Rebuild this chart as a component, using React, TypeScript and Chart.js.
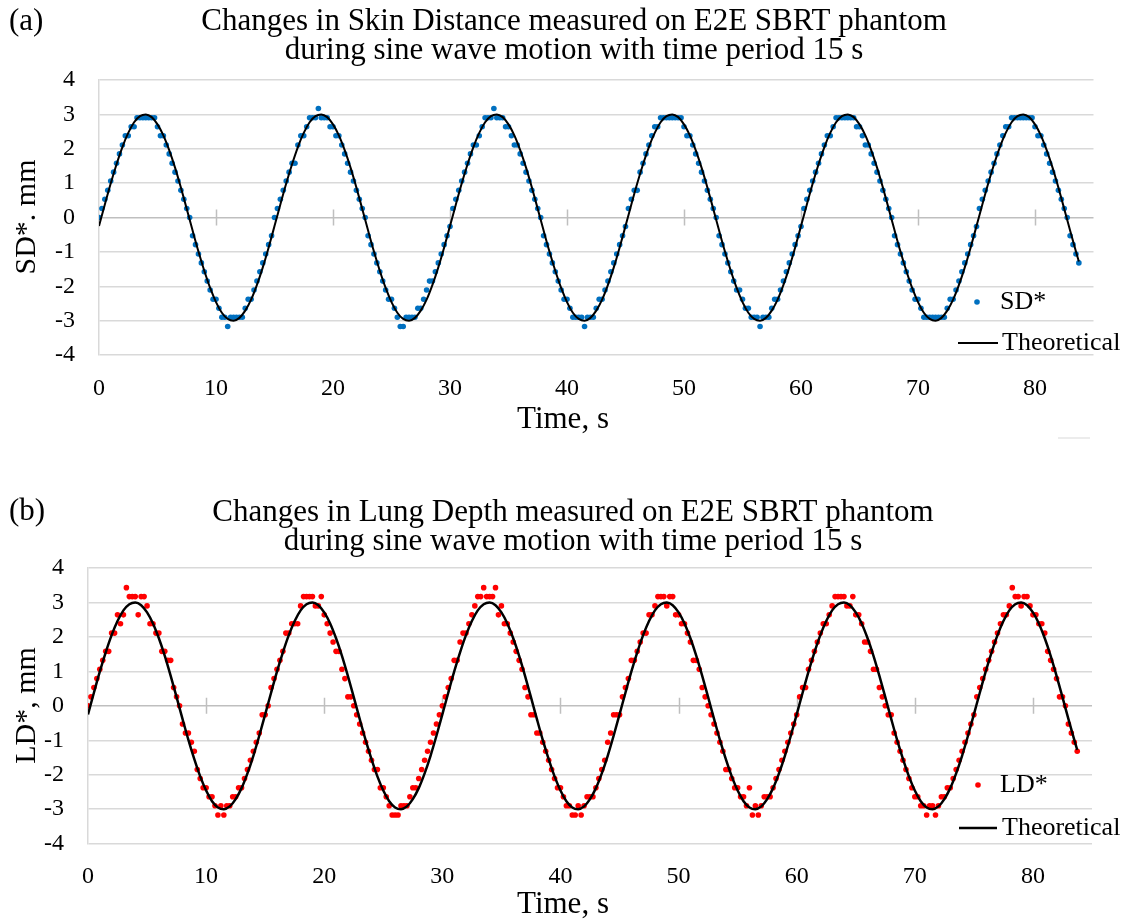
import React, { useEffect, useRef } from "react";
import { Chart, registerables } from "chart.js";

Chart.register(...registerables);

// ---------------- data ----------------
const TIME_S = [
  0, 0.25, 0.5, 0.75, 1, 1.25, 1.5, 1.75, 2, 2.25, 2.5, 2.75, 3, 3.25, 3.5, 3.75, 4, 4.25, 4.5, 4.75,
  5, 5.25, 5.5, 5.75, 6, 6.25, 6.5, 6.75, 7, 7.25, 7.5, 7.75, 8, 8.25, 8.5, 8.75, 9, 9.25, 9.5, 9.75,
  10, 10.25, 10.5, 10.75, 11, 11.25, 11.5, 11.75, 12, 12.25, 12.5, 12.75, 13, 13.25, 13.5, 13.75, 14, 14.25, 14.5, 14.75,
  15, 15.25, 15.5, 15.75, 16, 16.25, 16.5, 16.75, 17, 17.25, 17.5, 17.75, 18, 18.25, 18.5, 18.75, 19, 19.25, 19.5, 19.75,
  20, 20.25, 20.5, 20.75, 21, 21.25, 21.5, 21.75, 22, 22.25, 22.5, 22.75, 23, 23.25, 23.5, 23.75, 24, 24.25, 24.5, 24.75,
  25, 25.25, 25.5, 25.75, 26, 26.25, 26.5, 26.75, 27, 27.25, 27.5, 27.75, 28, 28.25, 28.5, 28.75, 29, 29.25, 29.5, 29.75,
  30, 30.25, 30.5, 30.75, 31, 31.25, 31.5, 31.75, 32, 32.25, 32.5, 32.75, 33, 33.25, 33.5, 33.75, 34, 34.25, 34.5, 34.75,
  35, 35.25, 35.5, 35.75, 36, 36.25, 36.5, 36.75, 37, 37.25, 37.5, 37.75, 38, 38.25, 38.5, 38.75, 39, 39.25, 39.5, 39.75,
  40, 40.25, 40.5, 40.75, 41, 41.25, 41.5, 41.75, 42, 42.25, 42.5, 42.75, 43, 43.25, 43.5, 43.75, 44, 44.25, 44.5, 44.75,
  45, 45.25, 45.5, 45.75, 46, 46.25, 46.5, 46.75, 47, 47.25, 47.5, 47.75, 48, 48.25, 48.5, 48.75, 49, 49.25, 49.5, 49.75,
  50, 50.25, 50.5, 50.75, 51, 51.25, 51.5, 51.75, 52, 52.25, 52.5, 52.75, 53, 53.25, 53.5, 53.75, 54, 54.25, 54.5, 54.75,
  55, 55.25, 55.5, 55.75, 56, 56.25, 56.5, 56.75, 57, 57.25, 57.5, 57.75, 58, 58.25, 58.5, 58.75, 59, 59.25, 59.5, 59.75,
  60, 60.25, 60.5, 60.75, 61, 61.25, 61.5, 61.75, 62, 62.25, 62.5, 62.75, 63, 63.25, 63.5, 63.75, 64, 64.25, 64.5, 64.75,
  65, 65.25, 65.5, 65.75, 66, 66.25, 66.5, 66.75, 67, 67.25, 67.5, 67.75, 68, 68.25, 68.5, 68.75, 69, 69.25, 69.5, 69.75,
  70, 70.25, 70.5, 70.75, 71, 71.25, 71.5, 71.75, 72, 72.25, 72.5, 72.75, 73, 73.25, 73.5, 73.75, 74, 74.25, 74.5, 74.75,
  75, 75.25, 75.5, 75.75, 76, 76.25, 76.5, 76.75, 77, 77.25, 77.5, 77.75, 78, 78.25, 78.5, 78.75, 79, 79.25, 79.5, 79.75,
  80, 80.25, 80.5, 80.75, 81, 81.25, 81.5, 81.75, 82, 82.25, 82.5, 82.75, 83, 83.25, 83.5, 83.75,
];

const SD_MM = [
  0.00, 0.26, 0.53, 0.79, 1.06, 1.32, 1.58, 1.85, 2.11, 2.38,
  2.38, 2.64, 2.64, 2.90, 2.90, 2.90, 2.90, 2.90, 2.90, 2.90,
  2.64, 2.38, 2.38, 2.11, 1.85, 1.58, 1.32, 1.06, 0.79, 0.53,
  0.26, 0.00, -0.53, -0.79, -1.06, -1.32, -1.58, -1.85, -2.11, -2.38,
  -2.38, -2.64, -2.90, -2.90, -3.17, -2.90, -2.90, -2.90, -2.90, -2.90,
  -2.64, -2.38, -2.38, -2.11, -1.85, -1.58, -1.32, -1.06, -0.79, -0.53,

  0.00, 0.26, 0.53, 0.79, 1.06, 1.32, 1.58, 1.58, 2.11, 2.38,
  2.38, 2.64, 2.90, 2.90, 2.90, 3.17, 2.90, 2.90, 2.90, 2.64,
  2.64, 2.38, 2.38, 2.11, 1.85, 1.58, 1.32, 1.06, 0.79, 0.53,
  0.26, 0.00, -0.53, -0.79, -1.06, -1.32, -1.58, -1.85, -2.11, -2.38,
  -2.38, -2.64, -2.90, -3.17, -3.17, -2.90, -2.90, -2.90, -2.90, -2.64,
  -2.64, -2.38, -2.11, -1.85, -1.85, -1.58, -1.32, -1.06, -0.79, -0.53,

  -0.26, 0.26, 0.53, 0.79, 1.06, 1.32, 1.58, 1.85, 2.11, 2.11,
  2.38, 2.64, 2.90, 2.90, 2.90, 3.17, 2.90, 2.90, 2.90, 2.64,
  2.64, 2.38, 2.11, 2.11, 1.85, 1.58, 1.32, 1.06, 0.79, 0.53,
  0.26, 0.00, -0.53, -0.79, -1.06, -1.32, -1.58, -1.85, -2.11, -2.38,
  -2.38, -2.64, -2.90, -2.90, -2.90, -2.90, -3.17, -2.90, -2.90, -2.90,
  -2.64, -2.38, -2.38, -2.11, -1.85, -1.58, -1.32, -1.06, -0.79, -0.53,

  -0.26, 0.26, 0.53, 0.79, 0.79, 1.32, 1.58, 1.85, 2.11, 2.38,
  2.64, 2.64, 2.90, 2.90, 2.90, 2.90, 2.90, 2.90, 2.90, 2.90,
  2.64, 2.38, 2.38, 2.11, 1.85, 1.58, 1.32, 1.06, 0.79, 0.53,
  0.26, 0.00, -0.53, -0.79, -1.06, -1.32, -1.58, -1.85, -2.11, -2.11,
  -2.38, -2.64, -2.64, -2.90, -2.90, -2.90, -3.17, -2.90, -2.90, -2.90,
  -2.64, -2.38, -2.38, -2.11, -1.85, -1.58, -1.32, -1.06, -0.79, -0.53,

  -0.26, 0.26, 0.53, 0.79, 1.06, 1.32, 1.58, 1.85, 2.11, 2.38,
  2.38, 2.64, 2.90, 2.90, 2.90, 2.90, 2.90, 2.90, 2.90, 2.64,
  2.64, 2.38, 2.11, 2.11, 1.85, 1.58, 1.32, 1.06, 0.79, 0.53,
  0.26, 0.00, -0.53, -0.79, -1.06, -1.32, -1.58, -1.85, -2.11, -2.38,
  -2.38, -2.64, -2.90, -2.90, -2.90, -2.90, -2.90, -2.90, -2.90, -2.90,
  -2.64, -2.38, -2.38, -2.11, -1.85, -1.58, -1.32, -1.06, -0.79, -0.53,

  -0.26, 0.26, 0.53, 0.79, 1.06, 1.32, 1.58, 1.85, 2.11, 2.38,
  2.64, 2.64, 2.90, 2.90, 2.90, 2.90, 2.90, 2.90, 2.90, 2.90,
  2.64, 2.38, 2.38, 2.11, 1.85, 1.58, 1.32, 1.06, 0.79, 0.53,
  0.26, 0.00, -0.53, -0.79, -1.06, -1.32,
];

const LD_MM = [
  0.00, 0.26, 0.53, 0.79, 1.06, 1.32, 1.58, 1.58, 2.11, 2.11,
  2.64, 2.38, 2.64, 3.43, 3.17, 3.17, 3.17, 2.64, 3.17, 3.17,
  2.90, 2.38, 2.38, 2.11, 2.11, 1.58, 1.58, 1.32, 1.32, 0.53,
  0.26, 0.00, -0.53, -0.79, -0.79, -1.06, -1.32, -1.85, -2.11, -2.38,
  -2.38, -2.64, -2.64, -2.90, -3.17, -2.90, -3.17, -2.90, -2.90, -2.64,
  -2.64, -2.38, -2.38, -2.11, -1.85, -1.58, -1.32, -1.06, -0.79, -0.26,

  -0.26, 0.00, 0.53, 0.79, 1.06, 1.32, 1.58, 2.11, 2.11, 2.38,
  2.38, 2.38, 2.90, 3.17, 3.17, 3.17, 3.17, 2.90, 2.90, 3.17,
  2.64, 2.38, 2.11, 1.85, 1.58, 1.58, 1.06, 0.79, 0.26, 0.26,
  0.00, -0.26, -0.53, -0.79, -1.06, -1.32, -1.58, -1.85, -1.85, -2.38,
  -2.38, -2.64, -2.90, -3.17, -3.17, -3.17, -2.90, -2.90, -2.90, -2.64,
  -2.38, -2.38, -2.11, -1.85, -1.58, -1.32, -1.06, -0.79, -0.53, -0.26,

  0.00, 0.26, 0.53, 0.79, 1.32, 1.32, 1.85, 2.11, 2.11, 2.38,
  2.64, 2.90, 3.17, 3.17, 3.43, 3.17, 3.17, 3.17, 3.43, 2.64,
  2.90, 2.38, 2.38, 2.11, 1.85, 1.58, 1.32, 1.06, 0.53, 0.26,
  -0.26, -0.26, -0.79, -0.79, -1.06, -1.32, -1.58, -1.85, -2.11, -2.38,
  -2.38, -2.64, -2.90, -2.90, -3.17, -3.17, -2.90, -3.17, -2.90, -2.64,
  -2.64, -2.64, -2.38, -2.11, -1.85, -1.58, -1.06, -0.79, -0.26, -0.26,

  -0.26, 0.26, 0.53, 0.79, 1.32, 1.32, 1.58, 1.85, 2.11, 2.11,
  2.64, 2.64, 2.90, 3.17, 3.17, 3.17, 2.90, 3.17, 3.17, 2.64,
  2.64, 2.38, 2.38, 2.11, 1.85, 1.32, 1.32, 1.06, 0.53, 0.26,
  0.00, -0.26, -0.53, -0.79, -1.06, -1.32, -1.85, -1.85, -2.11, -2.38,
  -2.38, -2.64, -2.64, -2.90, -2.38, -3.17, -2.90, -3.17, -2.90, -2.64,
  -2.64, -2.64, -2.38, -2.11, -1.85, -1.58, -1.32, -1.06, -0.79, -0.53,

  -0.26, 0.26, 0.53, 0.53, 1.06, 1.32, 1.58, 1.85, 2.11, 2.38,
  2.38, 2.64, 2.90, 3.17, 3.17, 3.17, 3.17, 2.90, 2.90, 3.17,
  2.64, 2.64, 2.38, 1.85, 1.85, 1.58, 1.06, 1.06, 0.53, 0.26,
  0.00, -0.26, -0.26, -0.79, -1.06, -1.32, -1.58, -1.85, -2.11, -2.38,
  -2.64, -2.64, -2.90, -2.90, -3.17, -2.90, -2.90, -3.17, -2.90, -2.64,
  -2.64, -2.38, -2.38, -2.11, -1.85, -1.58, -1.32, -1.06, -0.79, -0.53,

  -0.26, 0.26, 0.53, 0.79, 1.06, 1.32, 1.58, 1.85, 2.11, 2.38,
  2.64, 2.64, 2.90, 3.43, 3.17, 3.17, 2.90, 3.17, 3.17, 2.90,
  2.64, 2.64, 2.38, 2.38, 2.11, 1.58, 1.32, 1.06, 0.79, 0.26,
  0.26, 0.00, -0.53, -0.79, -1.06, -1.32,
];

const THEORY_TIME_S = [
  0, 0.5, 1, 1.5, 2, 2.5, 3, 3.5, 4, 4.5,
  5, 5.5, 6, 6.5, 7, 7.5, 8, 8.5, 9, 9.5,
  10, 10.5, 11, 11.5, 12, 12.5, 13, 13.5, 14, 14.5,
  15, 15.5, 16, 16.5, 17, 17.5, 18, 18.5, 19, 19.5,
  20, 20.5, 21, 21.5, 22, 22.5, 23, 23.5, 24, 24.5,
  25, 25.5, 26, 26.5, 27, 27.5, 28, 28.5, 29, 29.5,
  30, 30.5, 31, 31.5, 32, 32.5, 33, 33.5, 34, 34.5,
  35, 35.5, 36, 36.5, 37, 37.5, 38, 38.5, 39, 39.5,
  40, 40.5, 41, 41.5, 42, 42.5, 43, 43.5, 44, 44.5,
  45, 45.5, 46, 46.5, 47, 47.5, 48, 48.5, 49, 49.5,
  50, 50.5, 51, 51.5, 52, 52.5, 53, 53.5, 54, 54.5,
  55, 55.5, 56, 56.5, 57, 57.5, 58, 58.5, 59, 59.5,
  60, 60.5, 61, 61.5, 62, 62.5, 63, 63.5, 64, 64.5,
  65, 65.5, 66, 66.5, 67, 67.5, 68, 68.5, 69, 69.5,
  70, 70.5, 71, 71.5, 72, 72.5, 73, 73.5, 74, 74.5,
  75, 75.5, 76, 76.5, 77, 77.5, 78, 78.5, 79, 79.5,
  80, 80.5, 81, 81.5, 82, 82.5, 83, 83.5, 83.75,
];

const THEORY_MM = [
  -0.25, 0.38, 0.99, 1.55, 2.05, 2.46, 2.77, 2.95, 3.00, 2.92,
  2.71, 2.39, 1.96, 1.45, 0.87, 0.25, -0.38, -0.99, -1.55, -2.05,
  -2.46, -2.77, -2.95, -3.00, -2.92, -2.71, -2.39, -1.96, -1.45, -0.87,
  -0.25, 0.38, 0.99, 1.55, 2.05, 2.46, 2.77, 2.95, 3.00, 2.92,
  2.71, 2.39, 1.96, 1.45, 0.87, 0.25, -0.38, -0.99, -1.55, -2.05,
  -2.46, -2.77, -2.95, -3.00, -2.92, -2.71, -2.39, -1.96, -1.45, -0.87,
  -0.25, 0.38, 0.99, 1.55, 2.05, 2.46, 2.77, 2.95, 3.00, 2.92,
  2.71, 2.39, 1.96, 1.45, 0.87, 0.25, -0.38, -0.99, -1.55, -2.05,
  -2.46, -2.77, -2.95, -3.00, -2.92, -2.71, -2.39, -1.96, -1.45, -0.87,
  -0.25, 0.38, 0.99, 1.55, 2.05, 2.46, 2.77, 2.95, 3.00, 2.92,
  2.71, 2.39, 1.96, 1.45, 0.87, 0.25, -0.38, -0.99, -1.55, -2.05,
  -2.46, -2.77, -2.95, -3.00, -2.92, -2.71, -2.39, -1.96, -1.45, -0.87,
  -0.25, 0.38, 0.99, 1.55, 2.05, 2.46, 2.77, 2.95, 3.00, 2.92,
  2.71, 2.39, 1.96, 1.45, 0.87, 0.25, -0.38, -0.99, -1.55, -2.05,
  -2.46, -2.77, -2.95, -3.00, -2.92, -2.71, -2.39, -1.96, -1.45, -0.87,
  -0.25, 0.38, 0.99, 1.55, 2.05, 2.46, 2.77, 2.95, 3.00, 2.92,
  2.71, 2.39, 1.96, 1.45, 0.87, 0.25, -0.38, -0.99, -1.28,
];

const X_TICKS = [0, 10, 20, 30, 40, 50, 60, 70, 80];
const Y_TICKS = [-4, -3, -2, -1, 0, 1, 2, 3, 4];
const X_RANGE = [0, 85];
const Y_RANGE = [-4, 4];

const TITLE_A = [
  "Changes in Skin Distance measured on E2E SBRT phantom",
  "during sine wave motion with time period 15 s",
];
const TITLE_B = [
  "Changes in Lung Depth measured on E2E SBRT phantom",
  "during sine wave motion with time period 15 s",
];
const X_TITLE = "Time, s";
const LINE_LABEL = "Theoretical";

// ---------------- styling / layout ----------------
const SERIF = '"Liberation Serif", "Times New Roman", serif';

const PANELS = [
  {
    tag: "(a)",
    title: TITLE_A,
    yTitle: "SD*. mm",
    seriesLabel: "SD*",
    values: SD_MM,
    color: "#0070C0",
    lineWidth: 2,
    stray: true,
    g: {
      canvasTop: 0, height: 488, left: 99, right: 1093.5, top: 80, bottom: 355,
      tagX: 9, tagY: 22, titleX: 574, titleY: 22, titleGap: 29,
      xTitleX: 563, xTitleY: 420, yTitleX: 27, yTitleY: 217,
      legDotX: 977, legDotY: 302, legTextX: 1000,
      legLineX1: 958, legLineX2: 998, legLineY: 343,
    },
  },
  {
    tag: "(b)",
    title: TITLE_B,
    yTitle: "LD*, mm",
    seriesLabel: "LD*",
    values: LD_MM,
    color: "#FF0000",
    lineWidth: 2.5,
    stray: false,
    g: {
      canvasTop: 488, height: 436, left: 88, right: 1092, top: 80, bottom: 355.6,
      tagX: 9, tagY: 24, titleX: 573, titleY: 25, titleGap: 29,
      xTitleX: 563, xTitleY: 417, yTitleX: 27, yTitleY: 217.5,
      legDotX: 978, legDotY: 297, legTextX: 1000,
      legLineX1: 959, legLineX2: 997, legLineY: 340,
    },
  },
];

function makeDecor(p: any) {
  const g = p.g;
  return {
    id: "decor",
    beforeDatasetsDraw(chart: any) {
      const { ctx } = chart;
      const xs = chart.scales.x;
      const ys = chart.scales.y;
      const y0 = ys.getPixelForValue(0);
      ctx.save();
      ctx.strokeStyle = "#bfbfbf";
      ctx.lineWidth = 1.5;
      ctx.beginPath();
      X_TICKS.forEach((v) => {
        if (v === X_RANGE[0]) return;
        const x = Math.round(xs.getPixelForValue(v)) + 0.5;
        ctx.moveTo(x, y0 - 8);
        ctx.lineTo(x, y0 + 8);
      });
      ctx.stroke();
      ctx.restore();
    },
    afterDraw(chart: any) {
      const { ctx } = chart;
      ctx.save();
      ctx.fillStyle = "#000";
      ctx.textBaseline = "middle";
      ctx.font = `31px ${SERIF}`;
      ctx.textAlign = "left";
      ctx.fillText(p.tag, g.tagX, g.tagY);
      ctx.textAlign = "center";
      p.title.forEach((t: string, i: number) => ctx.fillText(t, g.titleX, g.titleY + i * g.titleGap));
      ctx.fillText(X_TITLE, g.xTitleX, g.xTitleY);
      ctx.font = `30px ${SERIF}`;
      ctx.save();
      ctx.translate(g.yTitleX, g.yTitleY);
      ctx.rotate(-Math.PI / 2);
      ctx.fillText(p.yTitle, 0, 0);
      ctx.restore();
      // legend
      ctx.font = `26px ${SERIF}`;
      ctx.textAlign = "left";
      ctx.fillStyle = p.color;
      ctx.beginPath();
      ctx.arc(g.legDotX, g.legDotY, 2.8, 0, Math.PI * 2);
      ctx.fill();
      ctx.fillStyle = "#000";
      ctx.fillText(p.seriesLabel, g.legTextX, g.legDotY);
      ctx.strokeStyle = "#000";
      ctx.lineWidth = p.lineWidth;
      ctx.beginPath();
      ctx.moveTo(g.legLineX1, g.legLineY);
      ctx.lineTo(g.legLineX2, g.legLineY);
      ctx.stroke();
      ctx.fillText(LINE_LABEL, g.legTextX + 2, g.legLineY);
      if (p.stray) {
        ctx.strokeStyle = "#e6e6e6";
        ctx.lineWidth = 1.5;
        ctx.beginPath();
        ctx.moveTo(1058, 438);
        ctx.lineTo(1090, 438);
        ctx.stroke();
      }
      ctx.restore();
    },
  };
}

function Panel({ p }: { p: any }) {
  const ref = useRef<HTMLCanvasElement | null>(null);
  useEffect(() => {
    const g = p.g;
    const points = TIME_S.map((t, i) => ({ x: t, y: p.values[i] }));
    const line = THEORY_TIME_S.map((t, i) => ({ x: t, y: THEORY_MM[i] }));
    const chart = new Chart(ref.current as HTMLCanvasElement, {
      type: "scatter",
      data: {
        datasets: [
          {
            type: "line",
            label: LINE_LABEL,
            data: line,
            showLine: true,
            borderColor: "#000",
            borderWidth: p.lineWidth,
            pointRadius: 0,
            fill: false,
            cubicInterpolationMode: "monotone",
            order: 0,
          } as any,
          {
            type: "scatter",
            label: p.seriesLabel,
            data: points,
            backgroundColor: p.color,
            borderWidth: 0,
            pointRadius: 2.8,
            order: 1,
          } as any,
        ],
      },
      options: {
        animation: false,
        responsive: false,
        events: [],
        layout: {
          padding: { left: 0, top: g.top, right: 1126 - g.right, bottom: g.height - g.bottom - 40 },
        },
        plugins: { legend: { display: false }, title: { display: false }, tooltip: { enabled: false } },
        scales: {
          x: {
            type: "linear",
            min: X_RANGE[0],
            max: X_RANGE[1],
            afterBuildTicks: (s: any) => {
              s.ticks = X_TICKS.map((v) => ({ value: v }));
            },
            afterFit: (s: any) => {
              s.height = 40;
            },
            ticks: { color: "#000", font: { family: SERIF, size: 24 }, padding: 19, maxRotation: 0, autoSkip: false },
            grid: { display: false, drawTicks: false },
            border: { display: false },
          },
          y: {
            type: "linear",
            min: Y_RANGE[0],
            max: Y_RANGE[1],
            afterBuildTicks: (s: any) => {
              s.ticks = Y_TICKS.map((v) => ({ value: v }));
            },
            afterFit: (s: any) => {
              s.width = g.left;
            },
            ticks: { color: "#000", font: { family: SERIF, size: 24 }, padding: 24 },
            grid: {
              color: (c: any) => (c.tick && c.tick.value === 0 ? "#bfbfbf" : "#d9d9d9"),
              lineWidth: 1.5,
              drawTicks: false,
            },
            border: { display: true, color: "#d9d9d9", width: 1.5 },
          },
        },
      } as any,
      plugins: [makeDecor(p)],
    });
    return () => chart.destroy();
  }, [p]);
  return (
    <canvas
      ref={ref}
      width={1126}
      height={p.g.height}
      style={{ position: "absolute", left: 0, top: p.g.canvasTop, width: 1126, height: p.g.height }}
    />
  );
}

export default function App() {
  return (
    <div style={{ position: "absolute", left: 0, top: 0, width: 1126, height: 924, background: "#fff" }}>
      {PANELS.map((p) => (
        <Panel key={p.tag} p={p} />
      ))}
    </div>
  );
}
